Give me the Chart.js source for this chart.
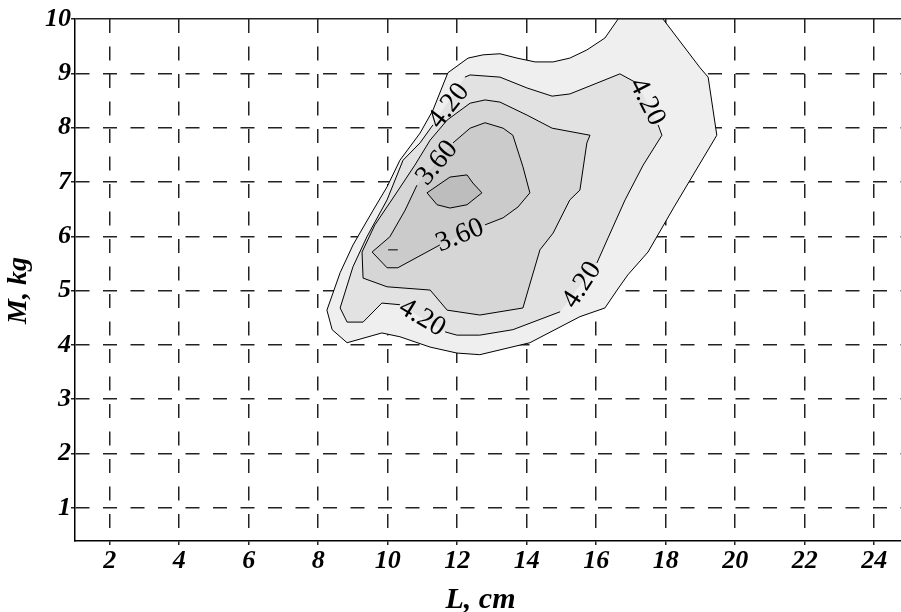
<!DOCTYPE html>
<html>
<head>
<meta charset="utf-8">
<script src="https://cdn.jsdelivr.net/npm/chart.js@4.4.1/dist/chart.umd.min.js"></script>
<style>
  html, body { margin: 0; padding: 0; background: #fff; }
  #wrap { width: 901px; height: 612px; }
</style>
</head>
<body>
<div id="wrap"><canvas id="contourChart" width="901" height="612"></canvas></div>
<script>
const xTicks = [2, 4, 6, 8, 10, 12, 14, 16, 18, 20, 22, 24];
const yTicks = [1, 2, 3, 4, 5, 6, 7, 8, 9, 10];

// contour levels, outermost first
const levels = [4.5, 4.2, 3.9, 3.6, 3.3];

const c450 = [
  [8.83, 4.04], [8.40, 4.28], [8.25, 4.64], [8.63, 5.33], [9.00, 5.84], [9.58, 6.48],
  [9.98, 6.91], [10.35, 7.40], [10.93, 7.90], [11.30, 8.32], [11.73, 9.01], [12.31, 9.28],
  [12.74, 9.34], [13.23, 9.36], [13.72, 9.28], [14.24, 9.21], [14.76, 9.21], [15.24, 9.28],
  [15.73, 9.43], [16.25, 9.65], [16.63, 10.0], [17.92, 10.0], [18.99, 9.10], [19.22, 8.93],
  [19.47, 7.86], [18.24, 6.54], [17.49, 5.71], [16.91, 5.29], [16.60, 5.01], [16.25, 4.68],
  [15.53, 4.52], [14.09, 4.04], [12.65, 3.82], [11.99, 3.85], [11.22, 3.96], [10.35, 4.15],
  [9.83, 4.22]
];
const c420 = [
  [8.63, 4.68], [8.83, 4.42], [9.29, 4.42], [9.83, 4.77], [10.35, 4.74], [11.65, 4.24],
  [11.99, 4.18], [12.65, 4.18], [13.60, 4.28], [14.96, 4.61], [16.02, 5.51], [16.34, 5.97],
  [16.83, 6.67], [17.35, 7.31], [17.89, 7.86], [17.78, 8.05], [17.17, 8.82], [16.68, 8.99],
  [16.02, 8.82], [15.24, 8.62], [14.73, 8.58], [14.01, 8.73], [13.23, 8.93], [12.37, 8.97],
  [12.22, 8.93], [11.30, 8.05], [10.93, 7.72], [10.44, 7.40], [9.98, 6.67], [9.40, 5.99],
  [9.00, 5.44]
];
const c390 = [
  [9.29, 5.23], [9.98, 5.07], [11.22, 5.01], [11.71, 4.64], [12.65, 4.55], [13.89, 4.68],
  [14.04, 5.01], [14.38, 5.75], [14.76, 6.06], [15.24, 6.67], [15.53, 6.85], [15.73, 7.72],
  [15.82, 7.86], [14.73, 7.99], [14.01, 8.23], [13.23, 8.47], [12.80, 8.51], [12.37, 8.45],
  [11.71, 8.14], [11.22, 7.77], [10.78, 7.31], [10.21, 6.76], [9.63, 6.21], [9.26, 5.71]
];
const c360 = [
  [9.55, 5.71], [10.06, 5.99], [10.50, 6.48], [10.84, 6.94], [11.88, 7.72], [12.37, 7.99],
  [12.80, 8.09], [13.32, 7.99], [13.60, 7.86], [13.89, 7.28], [14.09, 6.80], [13.75, 6.54],
  [13.32, 6.34], [12.80, 6.21], [11.50, 5.84], [10.29, 5.42], [9.98, 5.42]
];
const c330 = [
  [11.13, 6.80], [11.42, 6.58], [11.79, 6.52], [12.28, 6.58], [12.71, 6.80], [12.45, 6.98],
  [12.28, 7.13], [11.79, 7.09]
];
const contours = [c450, c420, c390, c360, c330];

const marker = [[10.01, 5.75], [10.29, 5.75]];

const labelText = ['4.20', '4.20', '4.20', '4.20', '3.60', '3.60'];
const labelLevel = [4.2, 4.2, 4.2, 4.2, 3.6, 3.6];
const labelX = [11.76, 17.46, 10.99, 15.59, 11.42, 12.08];
const labelY = [8.40, 8.47, 4.50, 5.10, 7.35, 6.01];
const labelAngle = [-52, 63, 31, -57, -50, -22];

const fillColors = ['#efefef', '#e2e2e2', '#d6d6d6', '#cbcbcb', '#bdbdbd'];
const serif = '"Liberation Serif", "DejaVu Serif", serif';
const tickFont = { family: serif, size: 26, weight: 'bold', style: 'italic' };

const toPts = (arr) => arr.map(([x, y]) => ({ x, y }));
const closed = (arr) => toPts(arr.concat([arr[0]]));

// skip the bit of contour line that sits under a label
function underLabel(level, ctx) {
  const { x, y } = ctx.chart.scales;
  const mx = (ctx.p0.x + ctx.p1.x) / 2;
  const my = (ctx.p0.y + ctx.p1.y) / 2;
  return labelText.some((t, i) =>
    labelLevel[i] === level &&
    Math.hypot(x.getPixelForValue(labelX[i]) - mx, y.getPixelForValue(labelY[i]) - my) < 14);
}

const datasets = [];
contours.forEach((c, i) => {
  datasets.push({
    data: closed(c),
    showLine: true,
    fill: 'shape',
    backgroundColor: fillColors[i],
    borderColor: 'rgba(0,0,0,0)',
    borderWidth: 0,
    pointRadius: 0,
    order: 20 - i,
  });
});
contours.forEach((c, i) => {
  datasets.push({
    data: closed(c),
    showLine: true,
    fill: false,
    borderColor: '#000',
    borderWidth: 1,
    pointRadius: 0,
    order: 5,
    segment: {
      borderColor: (ctx) => (underLabel(levels[i], ctx) ? 'rgba(0,0,0,0)' : '#000'),
    },
  });
});
datasets.push({
  data: toPts(marker),
  showLine: true,
  borderColor: '#000',
  borderWidth: 1,
  pointRadius: 0,
  order: 1,
});

const contourLabels = {
  id: 'contourLabels',
  afterDraw(chart) {
    const { ctx, scales: { x, y } } = chart;
    ctx.save();
    ctx.font = '28px ' + serif;
    ctx.fillStyle = '#000';
    ctx.textAlign = 'center';
    ctx.textBaseline = 'middle';
    labelText.forEach((t, i) => {
      ctx.save();
      ctx.translate(x.getPixelForValue(labelX[i]), y.getPixelForValue(labelY[i]));
      ctx.rotate(labelAngle[i] * Math.PI / 180);
      ctx.fillText(t, 0, 0);
      ctx.restore();
    });
    ctx.restore();
  },
};

new Chart(document.getElementById('contourChart'), {
  type: 'scatter',
  data: { datasets },
  options: {
    responsive: false,
    animation: false,
    events: [],
    layout: { padding: { top: 19, right: 0, left: 0, bottom: 0 } },
    plugins: { legend: { display: false }, tooltip: { enabled: false } },
    scales: {
      x: {
        type: 'linear',
        min: 1,
        max: 24.77,
        z: 1,
        afterBuildTicks: (s) => { s.ticks = xTicks.map((v) => ({ value: v })); },
        afterFit: (s) => { s.height = 71; },
        ticks: { font: tickFont, color: '#000', padding: 1, maxRotation: 0 },
        grid: { color: '#222', lineWidth: 1.5, tickLength: 4 },
        border: { color: '#000', width: 1.5, dash: [14, 13.5] },
        title: { display: true, text: 'L, cm  ', color: '#000', padding: 0,
          font: { family: serif, size: 30, weight: 'bold', style: 'italic', lineHeight: 0.8 } },
      },
      y: {
        type: 'linear',
        min: 0.39,
        max: 10,
        z: 1,
        afterBuildTicks: (s) => { s.ticks = yTicks.map((v) => ({ value: v })); },
        afterFit: (s) => { s.width = 75; },
        ticks: { font: tickFont, color: '#000', padding: 0 },
        grid: { color: '#222', lineWidth: 1.5, tickLength: 4 },
        border: { color: '#000', width: 1.5,
          dash: (ctx) => (ctx.tick && ctx.tick.value === 10 ? [] : [14, 13.5]) },
        title: { display: true, text: 'M, kg   ', color: '#000', padding: 2,
          font: { family: serif, size: 28, weight: 'bold', style: 'italic' } },
      },
    },
  },
  plugins: [contourLabels],
});
</script>
</body>
</html>
